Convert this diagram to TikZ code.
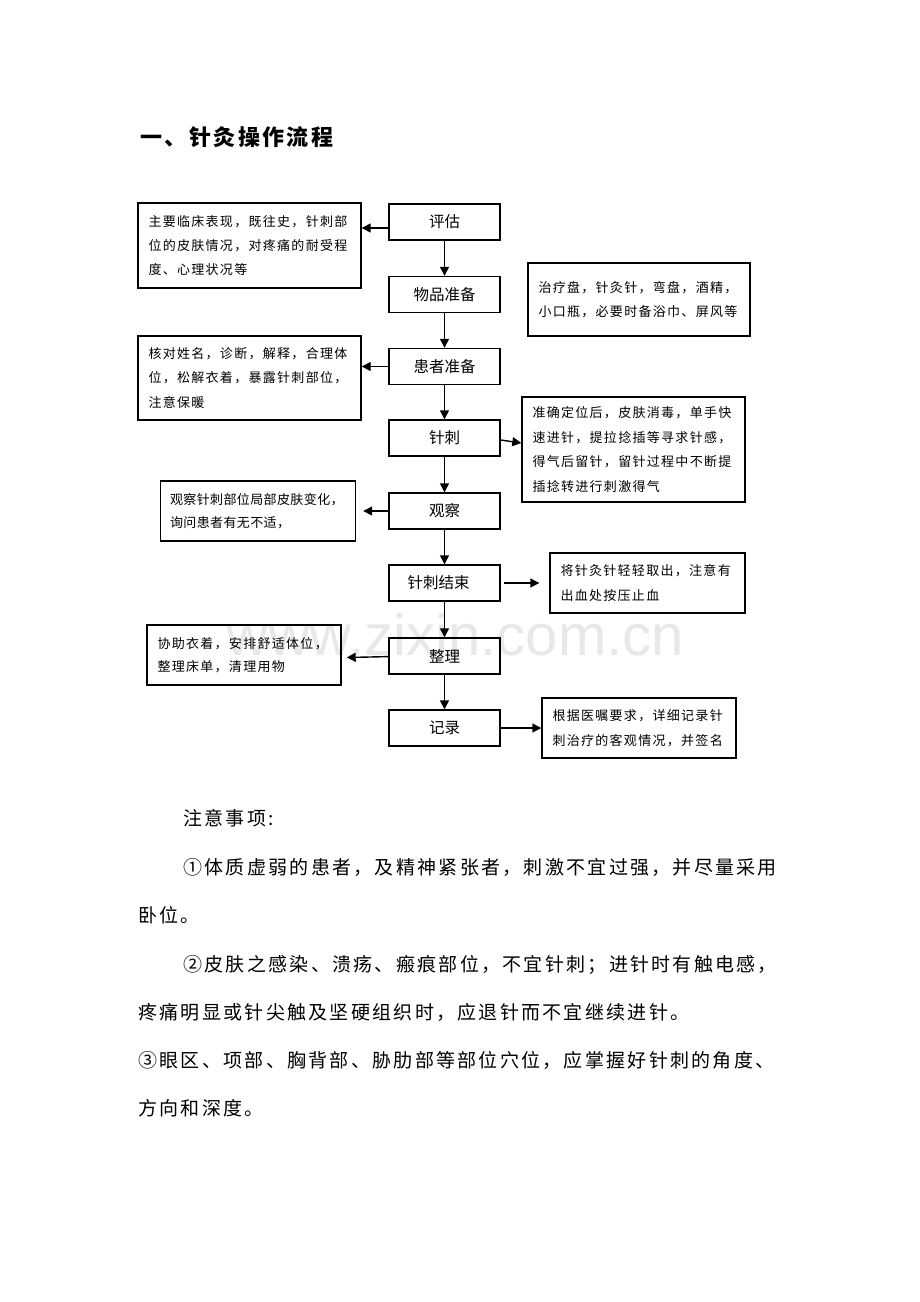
\documentclass[tikz,border=0pt]{standalone}
\usepackage{fontspec}
\usetikzlibrary{arrows.meta}
\newfontfamily\cjkplain{Noto Sans CJK SC}
\newfontfamily\cjkbox[LetterSpace=10]{Noto Sans CJK SC}
\newfontfamily\cjkboxs[LetterSpace=3]{Noto Sans CJK SC}
\newfontfamily\cjknote[LetterSpace=12]{Noto Sans CJK SC}
\newfontfamily\cjktitle[LetterSpace=11]{Noto Sans CJK SC}
\newfontfamily\wmfont{Liberation Sans}
\tikzset{
  mainbox/.style={draw, line width=0.7pt, minimum width=55.5pt, minimum height=18pt, inner sep=0pt,
    font=\cjkplain\fontsize{7.75pt}{9pt}\selectfont},
  notebox/.style={draw, line width=0.7pt, align=left, inner xsep=5.25pt, inner ysep=0pt,
    font=\cjkbox\fontsize{6.5pt}{12.2pt}\selectfont},
  arr/.style={line width=0.7pt, -{Triangle[length=4.5pt,width=4.5pt]}},
  notetext/.style={anchor=west, inner sep=0pt, font=\cjknote\fontsize{9.5pt}{11pt}\selectfont},
}
\begin{document}
\begin{tikzpicture}[x=0.5pt,y=-0.5pt]
\useasboundingbox[fill=white] (0,0) rectangle (920,1302);

% watermark
\node[font=\wmfont\fontsize{29pt}{30pt}\selectfont, text=black!9, inner sep=0pt] (wm) at (455,635) {www.zixin.com.cn};

% title
\node[anchor=west, inner sep=0pt, font=\cjktitle\bfseries\fontsize{11pt}{12pt}\selectfont] (title) at (140,137) {一、针灸操作流程};

% main flow
\node[mainbox] (pg) at (444.5,222) {评估};
\node[mainbox] (wp) at (444.5,294.5) {物品准备};
\node[mainbox] (hz) at (444.5,366.5) {患者准备};
\node[mainbox] (zc) at (444.5,438) {针刺};
\node[mainbox] (gc) at (444.5,511) {观察};
\node[mainbox] (js) at (444.5,583) {针刺结束\hspace*{5.8pt}};
\node[mainbox] (zl) at (444.5,656) {整理};
\node[mainbox] (jl) at (444.5,728) {记录};

% side boxes
\node[notebox, text width=101pt, minimum height=42.5pt] (L1) at (249.5,245.5)
  {主要临床表现，既往史，针刺部\\位的皮肤情况，对疼痛的耐受程\\度、心理状况等};
\node[notebox, text width=100.5pt, minimum height=36.5pt] (R1) at (639,299.5)
  {治疗盘，针灸针，弯盘，酒精，\\小口瓶，必要时备浴巾、屏风等};
\node[notebox, text width=101pt, minimum height=42pt] (L2) at (249.5,378)
  {核对姓名，诊断，解释，合理体\\位，松解衣着，暴露针刺部位，\\注意保暖};
\node[notebox, text width=101pt, minimum height=52.5pt] (R2) at (633.5,449.5)
  {准确定位后，皮肤消毒，单手快\\速进针，提拉捻插等寻求针感，\\得气后留针，留针过程中不断提\\插捻转进行刺激得气};
\node[notebox, text width=88pt, inner xsep=4.75pt, minimum height=30pt,
  font=\cjkboxs\fontsize{6.5pt}{11.6pt}\selectfont] (L3) at (258,511)
  {观察针刺部位局部皮肤变化，\\询问患者有无不适，};
\node[notebox, text width=87pt, minimum height=30pt] (R3) at (647.5,583)
  {将针灸针轻轻取出，注意有\\出血处按压止血};
\node[notebox, text width=86.5pt, minimum height=30pt, font=\cjkbox\fontsize{6.5pt}{11.6pt}\selectfont] (L4) at (244,655)
  {协助衣着，安排舒适体位，\\整理床单，清理用物};
\node[notebox, text width=86.5pt, minimum height=30pt] (R4) at (639,728)
  {根据医嘱要求，详细记录针\\刺治疗的客观情况，并签名};

% vertical arrows
\draw[arr] (pg) -- (wp);
\draw[arr] (wp) -- (hz);
\draw[arr] (hz) -- (zc);
\draw[arr] (zc) -- (gc);
\draw[arr] (gc) -- (js);
\draw[arr] (js) -- (zl);
\draw[arr] (zl) -- (jl);

% side arrows
\draw[arr] ([yshift=-3pt]pg.west) -- ([yshift=-3pt]pg.west -| L1.east);
\draw[arr] (hz.west) -- (hz.west -| L2.east);
\draw[arr] ([yshift=-1pt]zc.east) -- ([yshift=-2.5pt]zc.east -| R2.west);
\draw[arr, shorten >=3.5pt] (gc.west) -- (gc.west -| L3.east);
\draw[arr, shorten <=1.5pt, shorten >=5pt] (js.east) -- (js.east -| R3.west);
\draw[arr, shorten >=2.5pt] ([yshift=-0.3pt]zl.west) -- ([yshift=-0.8pt]zl.west -| L4.east);
\draw[arr] (jl.east) -- (jl.east -| R4.west);

% notes
\node[notetext] (n0) at (183,818) {注意事项:};
\node[notetext] (n1) at (183,867) {①体质虚弱的患者，及精神紧张者，刺激不宜过强，并尽量采用};
\node[notetext] (n2) at (138,915) {卧位。};
\node[notetext] (n3) at (183,965) {②皮肤之感染、溃疡、瘢痕部位，不宜针刺；进针时有触电感，};
\node[notetext] (n4) at (138,1012) {疼痛明显或针尖触及坚硬组织时，应退针而不宜继续进针。};
\node[notetext] (n5) at (138,1060) {③眼区、项部、胸背部、胁肋部等部位穴位，应掌握好针刺的角度、};
\node[notetext] (n6) at (138,1108) {方向和深度。};
\end{tikzpicture}
\end{document}
